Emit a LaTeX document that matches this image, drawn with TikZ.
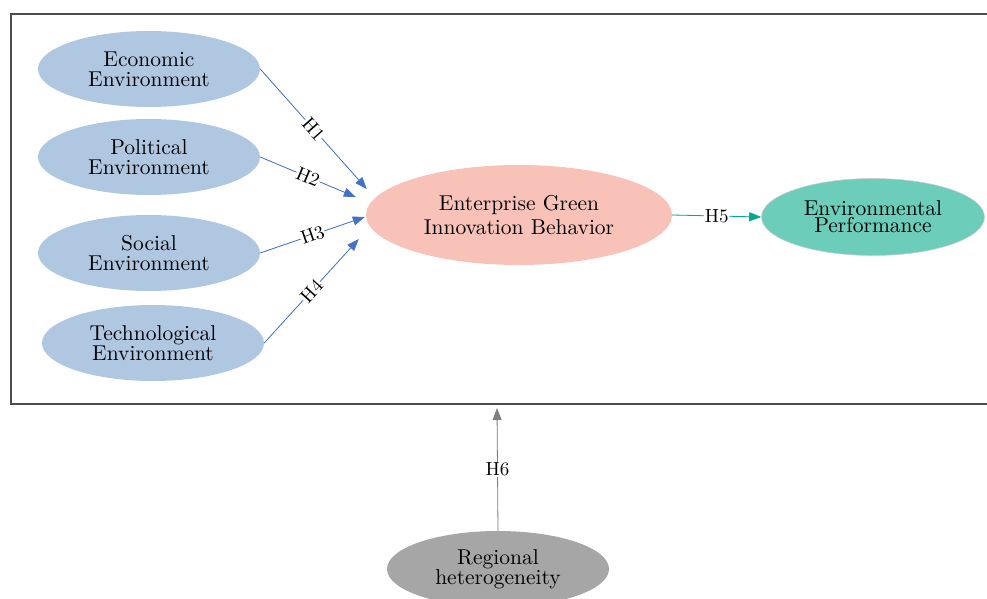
\documentclass[tikz,border=0pt]{standalone}
\usepackage{fontspec}
\setmainfont{lmroman10-regular.otf}
\usetikzlibrary{arrows.meta,shapes.geometric}
\definecolor{envblue}{HTML}{B0C7E2}
\definecolor{greenpink}{HTML}{F8C2B9}
\definecolor{perfteal}{HTML}{6BCDBA}
\definecolor{regiongray}{HTML}{A6A6A6}
\definecolor{linkblue}{HTML}{4472C4}
\definecolor{linkteal}{HTML}{00A88D}
\definecolor{linkgray}{HTML}{808080}
\tikzset{
  factor/.style={ellipse,fill=#1,minimum width=222pt,minimum height=76pt,inner sep=0pt,
    align=center,font=\fontsize{21.5}{20}\selectfont},
  hyp/.style={-{Triangle[length=12pt,width=9pt]},draw=#1,fill=#1,line width=0.8pt},
  hlabel/.style={fill=white,inner sep=0.5pt,font=\fontsize{19}{19}\selectfont}
}
\begin{document}
\begin{tikzpicture}[x=1pt,y=-1pt]
                 \useasboundingbox (0,0) rectangle (987,599);
                 \draw[line width=1.2pt,black!70](11,14) rectangle (995,404);
                 % PEST factors
                 \node[factor=envblue] (eco) at (149,69) {Economic\\Environment};
                 \node[factor=envblue] (pol) at (149,157) {Political\\Environment};
                 \node[factor=envblue] (soc) at (149,253) {Social\\Environment};
                 \node[factor=envblue] (tech) at (153,343) {Technological\\Environment};
                 \node[factor=greenpink,minimum width=306pt,minimum height=100pt,
                   font=\fontsize{21.5}{24}\selectfont] (egib) at (519,215) {Enterprise Green\\Innovation Behavior};
                 \node[factor=perfteal,draw=black!20,line width=0.6pt,minimum width=223pt,minimum height=77pt,
                   font=\fontsize{21.5}{17}\selectfont] (perf) at (873,217) {Environmental\\Performance};
                 \node[factor=regiongray,font=\fontsize{21.5}{18}\selectfont] (reg) at (498,569) {Regional\\heterogeneity};
                 \coordinate (frame) at (497,408);
                   \draw[hyp=linkblue](eco.east)--node[hlabel,sloped]{H1}([shift={(1,-26)}]egib.west);
                   \draw[hyp=linkblue](pol.east)--node[hlabel,sloped]{H2}([shift={(-10,-18)}]egib.west);
                   \draw[hyp=linkblue](soc.east)--node[hlabel,sloped]{H3}([shift={(-1,2)}]egib.west);
                   \draw[hyp=linkblue](tech.east)--node[hlabel,sloped]{H4}([shift={(-7,24)}]egib.west);
                   \draw[hyp=linkteal](egib.east)--node[hlabel]{H5}(perf.west);
                   \draw[hyp=linkgray](reg.north)--node[hlabel]{H6}(frame);
            \end{tikzpicture}
\end{document}
